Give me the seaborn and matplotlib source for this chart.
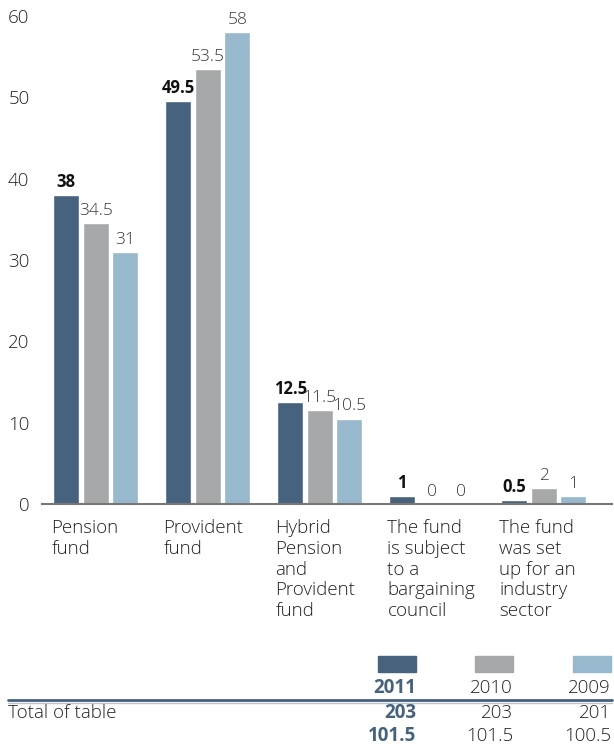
import pandas as pd
import matplotlib.pyplot as plt
from matplotlib.patches import Rectangle
from matplotlib.lines import Line2D
import seaborn as sns

categories = ["Pension\nfund", "Provident\nfund", "Hybrid\nPension\nand\nProvident\nfund",
              "The fund\nis subject\nto a\nbargaining\ncouncil", "The fund\nwas set\nup for an\nindustry\nsector"]
years = ["2011", "2010", "2009"]
values_2011 = [38, 49.5, 12.5, 1, 0.5]
values_2010 = [34.5, 53.5, 11.5, 0, 2]
values_2009 = [31, 58, 10.5, 0, 1]
totals = ["203", "203", "201"]
totals_2 = ["101.5", "101.5", "100.5"]
colors = ["#46627d", "#a7a8aa", "#97b8cd"]

df = pd.DataFrame({
    "cat": categories * 3,
    "year": [y for y in years for _ in categories],
    "value": values_2011 + values_2010 + values_2009,
})

sns.set_theme(style="white")
plt.rcParams["font.family"] = ["Open Sans", "DejaVu Sans"]
plt.rcParams["font.weight"] = "light"

W, H = 614, 747
fig = plt.figure(figsize=(W / 100, H / 100), dpi=100)
ax = fig.add_axes([42 / W, 1 - 504 / H, 570 / W, 488 / H])

sns.barplot(data=df, x="cat", y="value", hue="year", hue_order=years,
            palette=colors, width=0.79, gap=0.12, saturation=1, ax=ax, legend=False)

ax.set_ylim(0, 60)
ax.set_xlim(-0.48, 4.61)
ax.set_yticks(range(0, 61, 10))
ax.tick_params(axis="y", length=0, pad=9, labelsize=13.5, labelcolor="#222222")
ax.set_xticks([])
ax.set_xlabel("")
ax.set_ylabel("")
for s in ["top", "right", "left"]:
    ax.spines[s].set_visible(False)
ax.spines["bottom"].set_color("#777777")
ax.spines["bottom"].set_linewidth(1.5)

for i, cont in enumerate(ax.containers):
    labels = [f"{v:g}" for v in cont.datavalues]
    if i == 0:
        ax.bar_label(cont, labels=labels, padding=3, fontsize=12, fontweight="bold", color="#111111")
    else:
        ax.bar_label(cont, labels=labels, padding=3, fontsize=12.5, color="#3a3a3a")

# category labels, left aligned with the first bar
for i, cat in enumerate(categories):
    ax.text(i - 0.395, -0.03, cat, transform=ax.get_xaxis_transform(), ha="left", va="top",
            fontsize=13.5, color="#222222", linespacing=1.21)

# legend table at the bottom
swatch_x = [378, 475, 573]
for j, y in enumerate(years):
    x0 = swatch_x[j]
    fig.add_artist(Rectangle((x0 / W, 1 - 672 / H), 38 / W, 16 / H,
                             transform=fig.transFigure, color=colors[j]))
    bold = j == 0
    col = "#46627d" if bold else "#222222"
    fw = "bold" if bold else "light"
    fig.text((x0 + 38) / W, 1 - 688 / H, y, ha="right", va="center", fontsize=13.5, color=col, fontweight=fw)
    fig.text((x0 + 38) / W, 1 - 713 / H, totals[j], ha="right", va="center", fontsize=13.5, color=col, fontweight=fw)
    fig.text((x0 + 38) / W, 1 - 736 / H, totals_2[j], ha="right", va="center", fontsize=13.5, color=col, fontweight=fw)

fig.add_artist(Line2D([8 / W, 612 / W], [1 - 700 / H, 1 - 700 / H], transform=fig.transFigure,
                      color="#46627d", linewidth=2))
fig.add_artist(Line2D([8 / W, 612 / W], [1 - 702.5 / H, 1 - 702.5 / H], transform=fig.transFigure,
                      color="#b8c4cf", linewidth=1))
fig.text(8 / W, 1 - 713 / H, "Total of table", ha="left", va="center", fontsize=13.5, color="#222222")

fig.savefig("out.png", dpi=100)
